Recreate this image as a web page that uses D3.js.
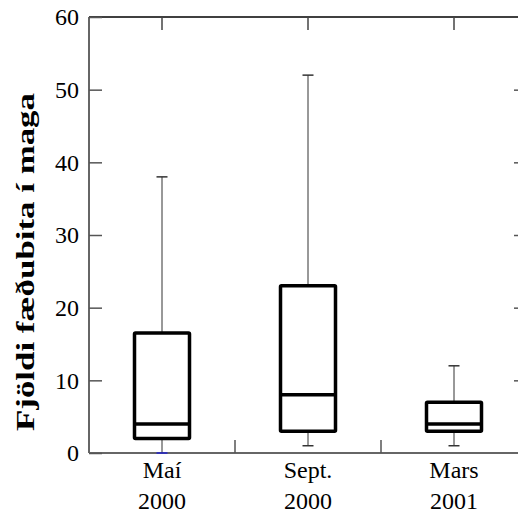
<!DOCTYPE html>
<html lang="en">
<head>
<meta charset="utf-8">
<title>Fjöldi fæðubita</title>
<script src="https://cdn.jsdelivr.net/npm/d3@7"></script>
<style>
  body { margin: 0; background: #fff; }
  svg text { font-family: "Liberation Serif", "Times New Roman", serif !important; fill: #000; }
</style>
</head>
<body>
<script>
// data
var categories = [["Maí", "2000"], ["Sept.", "2000"], ["Mars", "2001"]];
var whiskerLow  = [0, 1, 1];
var q1          = [2, 3, 3];
var median      = [4, 8, 4];
var q3          = [16.5, 23, 7];
var whiskerHigh = [38, 52, 12];
var yTicks = [0, 10, 20, 30, 40, 50, 60];

var w = 518, h = 517;
var mLeft = 89, mRight = 527, mTop = 17, mBottom = 453;

var svg = d3.select("body").append("svg")
    .attr("width", w)
    .attr("height", h);

var x = d3.scaleBand()
    .domain(d3.range(categories.length))
    .range([mLeft, mRight]);

var y = d3.scaleLinear()
    .domain([0, 60])
    .range([mBottom, mTop]);

var boxW = 55, capW = 11;

// axes frame
svg.append("line").attr("x1", mLeft).attr("x2", mRight).attr("y1", mTop).attr("y2", mTop)
    .attr("stroke", "#000").attr("stroke-width", 1.5);
svg.append("line").attr("x1", mLeft).attr("x2", mLeft).attr("y1", mTop).attr("y2", mBottom)
    .attr("stroke", "#666").attr("stroke-width", 2);
svg.append("line").attr("x1", mLeft).attr("x2", mRight).attr("y1", mBottom).attr("y2", mBottom)
    .attr("stroke", "#666").attr("stroke-width", 2);

// y axis (ticks inward, left and right)
var yAxis = svg.append("g")
    .attr("transform", "translate(" + mLeft + ",0)")
    .attr("font-family", "Liberation Serif")
    .call(d3.axisLeft(y).tickValues(yTicks).tickSizeInner(-13).tickSizeOuter(0).tickPadding(10));
yAxis.attr("font-family", "Liberation Serif").attr("font-size", 24);
yAxis.select(".domain").remove();
yAxis.selectAll("line").attr("stroke", "#555").attr("stroke-width", 1.5);
yAxis.selectAll("text")
    .style("font-size", "24px")
    .style("font-family", "'Liberation Serif', serif")
    .attr("fill", "#000");

var yAxisR = svg.append("g")
    .attr("transform", "translate(" + mRight + ",0)")
    .call(d3.axisRight(y).tickValues(yTicks.slice(1, 6)).tickSize(-13).tickFormat(""));
yAxisR.select(".domain").remove();
yAxisR.selectAll("line").attr("stroke", "#555").attr("stroke-width", 1.5);

// top ticks at category centres
var topAxis = svg.append("g")
    .attr("transform", "translate(0," + mTop + ")")
    .call(d3.axisTop(x).tickSize(-13).tickFormat(""));
topAxis.select(".domain").remove();
topAxis.selectAll("line").attr("stroke", "#444").attr("stroke-width", 1.5);

// bottom ticks at band boundaries
svg.selectAll(".btick")
    .data(d3.range(1, categories.length))
    .enter()
    .append("line")
    .attr("x1", function (d) { return x(d); })
    .attr("x2", function (d) { return x(d); })
    .attr("y1", mBottom)
    .attr("y2", mBottom - 13)
    .attr("stroke", "#555")
    .attr("stroke-width", 1.5);

// category labels
var lab = svg.selectAll(".xlab")
    .data(categories)
    .enter()
    .append("text")
    .attr("text-anchor", "middle")
    .style("font-family", "'Liberation Serif', serif")
    .style("font-size", "24px");
lab.append("tspan")
    .attr("x", function (d, i) { return x(i) + x.bandwidth() / 2; })
    .attr("y", 478)
    .text(function (d) { return d[0]; });
lab.append("tspan")
    .attr("x", function (d, i) { return x(i) + x.bandwidth() / 2; })
    .attr("y", 509)
    .text(function (d) { return d[1]; });

// y label
svg.append("text")
    .attr("transform", "translate(34,262) rotate(-90)")
    .attr("text-anchor", "middle")
    .style("font-family", "'Liberation Serif', serif")
    .style("font-size", "26px")
    .style("font-weight", "bold")
    .attr("textLength", 338)
    .attr("lengthAdjust", "spacingAndGlyphs")
    .text("Fjöldi fæðubita í maga");

// boxes
var g = svg.selectAll(".box")
    .data(categories)
    .enter()
    .append("g")
    .attr("transform", function (d, i) { return "translate(" + (x(i) + x.bandwidth() / 2) + ",0)"; });

g.append("line")
    .attr("y1", function (d, i) { return y(whiskerHigh[i]); })
    .attr("y2", function (d, i) { return y(q3[i]); })
    .attr("stroke", "#333").attr("stroke-width", 1);
g.append("line")
    .attr("y1", function (d, i) { return y(q1[i]); })
    .attr("y2", function (d, i) { return y(whiskerLow[i]); })
    .attr("stroke", "#333").attr("stroke-width", 1);
g.append("line")
    .attr("x1", -capW / 2).attr("x2", capW / 2)
    .attr("y1", function (d, i) { return y(whiskerHigh[i]); })
    .attr("y2", function (d, i) { return y(whiskerHigh[i]); })
    .attr("stroke", "#333").attr("stroke-width", 1.5);
g.append("line")
    .attr("x1", -capW / 2).attr("x2", capW / 2)
    .attr("y1", function (d, i) { return y(whiskerLow[i]); })
    .attr("y2", function (d, i) { return y(whiskerLow[i]); })
    .attr("stroke", function (d, i) { return whiskerLow[i] === 0 ? "#22c" : "#333"; })
    .attr("stroke-width", 1.5);
g.append("rect")
    .attr("x", -boxW / 2)
    .attr("width", boxW)
    .attr("y", function (d, i) { return y(q3[i]); })
    .attr("height", function (d, i) { return y(q1[i]) - y(q3[i]); })
    .attr("fill", "none")
    .attr("stroke", "#000")
    .attr("stroke-width", 3.5)
    .attr("rx", 1);
g.append("line")
    .attr("x1", -boxW / 2).attr("x2", boxW / 2)
    .attr("y1", function (d, i) { return y(median[i]); })
    .attr("y2", function (d, i) { return y(median[i]); })
    .attr("stroke", "#000").attr("stroke-width", 3.5);
</script>
</body>
</html>
